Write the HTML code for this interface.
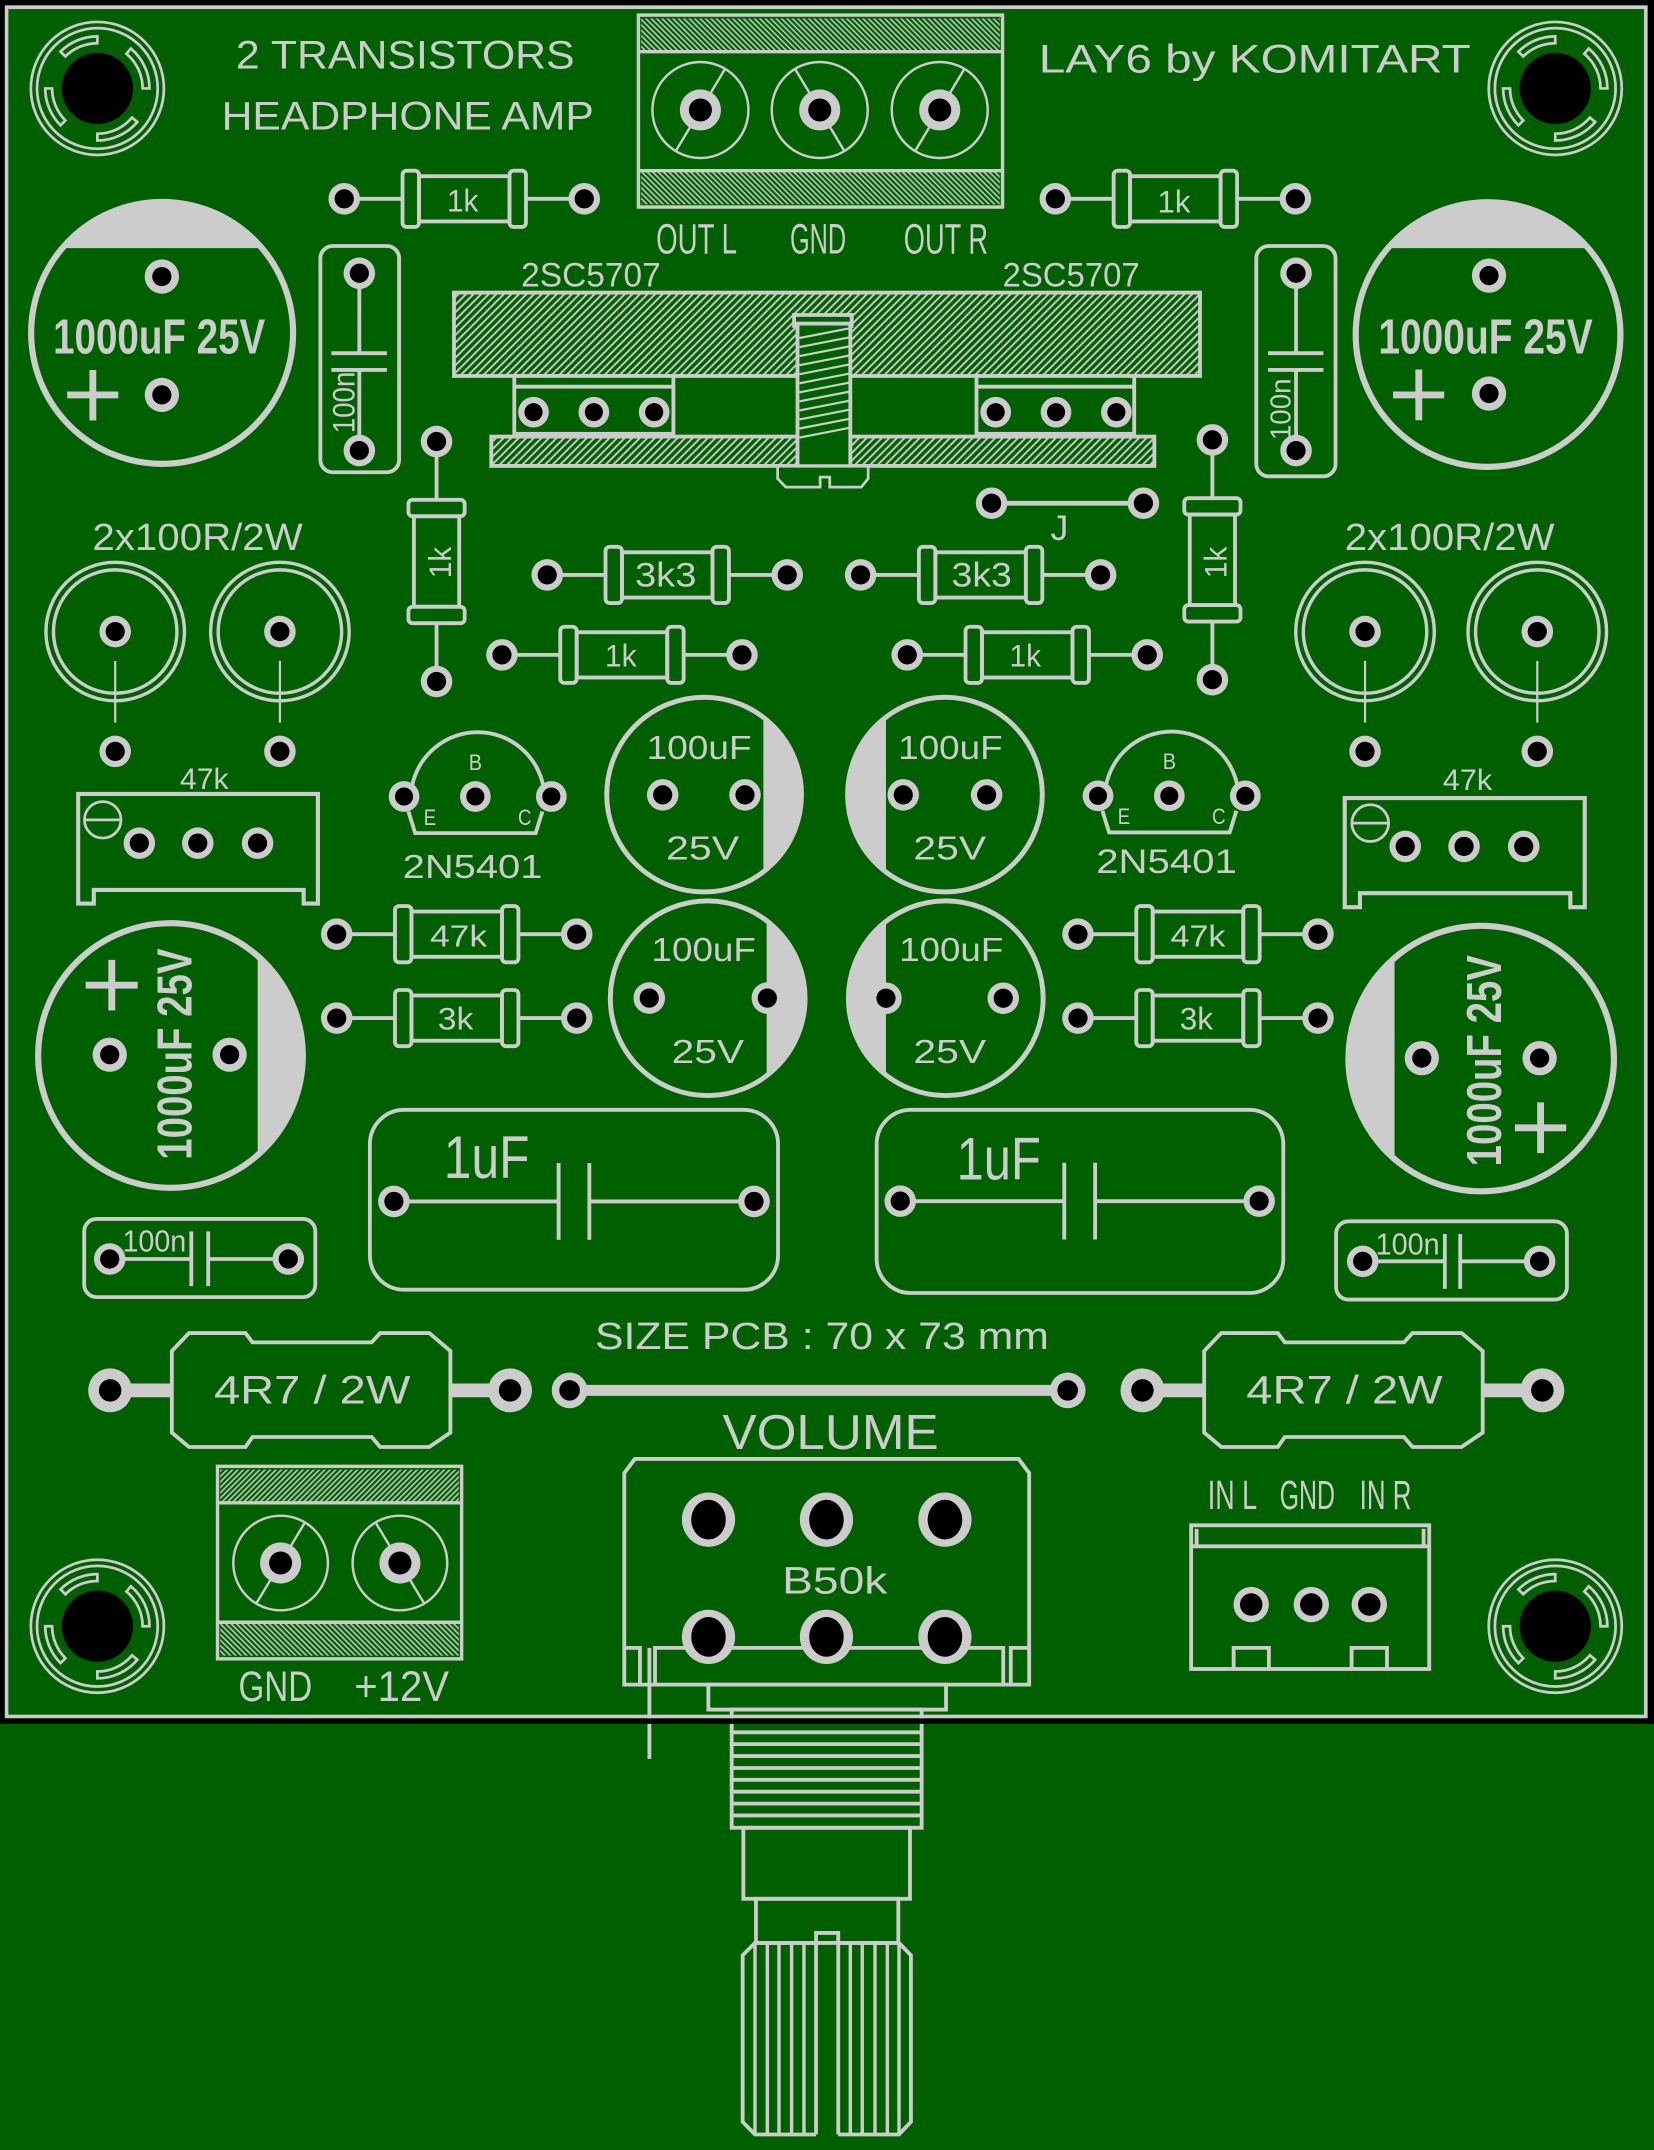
<!DOCTYPE html>
<html><head><meta charset="utf-8"><style>
html,body{margin:0;padding:0;background:#006000;}
svg{display:block;}
.t{font-family:"Liberation Sans",sans-serif;fill:#ccc;}
.b{font-weight:bold;}
</style></head><body>
<svg xmlns="http://www.w3.org/2000/svg" width="1654" height="2150" viewBox="0 0 1206 1568" preserveAspectRatio="none">
<defs>
<pattern id="h1" width="3.9" height="10" patternUnits="userSpaceOnUse" patternTransform="rotate(45)"><line x1="1.95" y1="0" x2="1.95" y2="10" stroke="#ccc" stroke-width="1.4"/></pattern>
<pattern id="h2" width="2.8" height="10" patternUnits="userSpaceOnUse" patternTransform="rotate(-45)"><line x1="1.4" y1="0" x2="1.4" y2="10" stroke="#ccc" stroke-width="1.1"/></pattern>
<pattern id="h3" width="2.8" height="10" patternUnits="userSpaceOnUse" patternTransform="rotate(45)"><line x1="1.4" y1="0" x2="1.4" y2="10" stroke="#ccc" stroke-width="1.1"/></pattern>
<g id="p"><circle r="11.5" fill="#ccc"/><circle r="7" fill="#000"/></g>
<g id="pc"><circle r="12.5" fill="#ccc"/><circle r="7" fill="#000"/></g>
<g id="pq"><circle r="11.2" fill="#ccc"/><circle r="6.6" fill="#000"/></g>
<g id="pt"><circle r="15" fill="#ccc"/><circle r="8.4" fill="#000"/></g>
<g id="pb"><circle r="16" fill="#ccc"/><circle r="8.2" fill="#000"/></g>
<g id="pv"><ellipse rx="19.4" ry="19.8" fill="#ccc"/><ellipse rx="12.6" ry="14.5" fill="#000"/></g>
<g id="pi"><circle r="12.9" fill="#ccc"/><circle r="8.2" fill="#000"/></g>
<g id="pw"><circle r="13" fill="#ccc"/><circle r="7.5" fill="#000"/></g>
<g id="mh" fill="none" stroke="#ccc" stroke-width="2">
<circle r="48.5"/><circle r="44"/>
<path d="M-26.87,-26.87 A38 38 0 0 1 0,-38 L0,-33 A33 33 0 0 0 -23.33,-23.33 Z"/>
<path d="M24.43,-29.11 A38 38 0 0 1 38,0 L33,0 A33 33 0 0 0 21.21,-25.28 Z"/>
<path d="M29.11,24.43 A38 38 0 0 1 0,38 L0,33 A33 33 0 0 0 25.28,21.21 Z"/>
<path d="M-26.87,26.87 A38 38 0 0 1 -38,0 L-33,0 A33 33 0 0 0 -23.33,23.33 Z"/>
<circle r="26" fill="#000" stroke="none"/>
</g>
<g id="rh" fill="none" stroke="#ccc" stroke-width="2.8">
<line x1="-87" y1="0" x2="-45" y2="0"/><line x1="45" y1="0" x2="87" y2="0"/>
<rect x="-33" y="-16.5" width="66" height="33"/>
<rect x="-45" y="-20.5" width="12" height="41" rx="3"/>
<rect x="33" y="-20.5" width="12" height="41" rx="3"/>
</g>
<g id="rv" transform="rotate(90)"><use href="#rh"/></g>
</defs>

<rect x="0" y="0" width="1206" height="1568" fill="#006000"/>

<!-- mounting holes -->
<use href="#mh" x="71" y="64.5"/>
<use href="#mh" x="1134" y="64.5"/>
<use href="#mh" x="71" y="1186"/>
<use href="#mh" x="1134" y="1186"/>

<!-- titles -->
<text class="t" x="172" y="49.8" font-size="29" textLength="247" lengthAdjust="spacingAndGlyphs">2 TRANSISTORS</text>
<text class="t" x="161.6" y="94.3" font-size="29" textLength="271.4" lengthAdjust="spacingAndGlyphs">HEADPHONE AMP</text>
<text class="t" x="757.4" y="53" font-size="29" textLength="315" lengthAdjust="spacingAndGlyphs">LAY6 by KOMITART</text>

<!-- top terminal block -->
<g fill="none" stroke="#ccc" stroke-width="2.5">
<rect x="467.5" y="13.5" width="261.5" height="24" fill="url(#h2)" stroke="none"/>
<rect x="467.5" y="125.5" width="261.5" height="23.5" fill="url(#h2)" stroke="none"/>
<rect x="465.5" y="11" width="265.5" height="140"/>
<line x1="465.5" y1="37.7" x2="731" y2="37.7"/>
<line x1="465.5" y1="124.5" x2="731" y2="124.5"/>
<g stroke-width="1.8">
<circle cx="510.7" cy="80.2" r="35"/><circle cx="597.7" cy="80.2" r="35"/><circle cx="685.2" cy="80.2" r="35"/>
<line x1="492.7" y1="110.2" x2="528.7" y2="50.2"/>
<line x1="579.7" y1="50.2" x2="615.7" y2="110.2"/>
<line x1="667.2" y1="110.2" x2="703.2" y2="50.2"/>
</g>
</g>
<use href="#pt" x="510.7" y="80.2"/><use href="#pt" x="597.7" y="80.2"/><use href="#pt" x="685.2" y="80.2"/>
<text class="t" x="478.4" y="184.7" font-size="31" textLength="59" lengthAdjust="spacingAndGlyphs">OUT L</text>
<text class="t" x="576" y="184.7" font-size="31" textLength="41" lengthAdjust="spacingAndGlyphs">GND</text>
<text class="t" x="659" y="184.7" font-size="31" textLength="61.4" lengthAdjust="spacingAndGlyphs">OUT R</text>

<!-- resistors -->
<use href="#rh" x="338.5" y="145"/><use href="#p" x="251" y="145"/><use href="#p" x="426" y="145"/>
<text class="t" x="325.9" y="154.3" font-size="23" textLength="22.9" lengthAdjust="spacingAndGlyphs">1k</text>
<use href="#rh" x="857" y="145"/><use href="#p" x="769.5" y="145"/><use href="#p" x="944.5" y="145"/>
<text class="t" x="844" y="155" font-size="23" textLength="24" lengthAdjust="spacingAndGlyphs">1k</text>

<use href="#rh" x="486.5" y="419.3"/><use href="#p" x="399" y="419.3"/><use href="#p" x="574" y="419.3"/>
<text class="t" x="463" y="427.8" font-size="25" textLength="44.8" lengthAdjust="spacingAndGlyphs">3k3</text>
<use href="#rh" x="715" y="419.3"/><use href="#p" x="627.5" y="419.3"/><use href="#p" x="802.5" y="419.3"/>
<text class="t" x="693.8" y="427.8" font-size="25" textLength="44" lengthAdjust="spacingAndGlyphs">3k3</text>

<use href="#rh" x="453.5" y="477.6"/><use href="#p" x="366" y="477.6"/><use href="#p" x="541" y="477.6"/>
<text class="t" x="441" y="486.1" font-size="23" textLength="23.2" lengthAdjust="spacingAndGlyphs">1k</text>
<use href="#rh" x="749" y="477.6"/><use href="#p" x="661.5" y="477.6"/><use href="#p" x="836.5" y="477.6"/>
<text class="t" x="736.1" y="486.1" font-size="23" textLength="23" lengthAdjust="spacingAndGlyphs">1k</text>

<use href="#rh" x="333" y="681.3"/><use href="#p" x="245.5" y="681.3"/><use href="#p" x="420.5" y="681.3"/>
<text class="t" x="313.5" y="690.3" font-size="22" textLength="41.7" lengthAdjust="spacingAndGlyphs">47k</text>
<use href="#rh" x="333" y="742.5"/><use href="#p" x="245.5" y="742.5"/><use href="#p" x="420.5" y="742.5"/>
<text class="t" x="319.2" y="751" font-size="23" textLength="26" lengthAdjust="spacingAndGlyphs">3k</text>
<use href="#rh" x="873.5" y="681.3"/><use href="#p" x="786" y="681.3"/><use href="#p" x="961" y="681.3"/>
<text class="t" x="853.5" y="690.3" font-size="22" textLength="40" lengthAdjust="spacingAndGlyphs">47k</text>
<use href="#rh" x="873.5" y="742.5"/><use href="#p" x="786" y="742.5"/><use href="#p" x="961" y="742.5"/>
<text class="t" x="860.2" y="751" font-size="23" textLength="24.3" lengthAdjust="spacingAndGlyphs">3k</text>

<use href="#rv" x="318.3" y="409.5"/><use href="#p" x="318.3" y="322"/><use href="#p" x="318.3" y="497"/>
<text class="t" transform="translate(329,421.7) rotate(-90)" x="0" y="0" font-size="23" textLength="23" lengthAdjust="spacingAndGlyphs">1k</text>
<use href="#rv" x="884" y="408.3"/><use href="#p" x="884" y="320.8"/><use href="#p" x="884" y="495.7"/>
<text class="t" transform="translate(894.2,421.7) rotate(-90)" x="0" y="0" font-size="23" textLength="23" lengthAdjust="spacingAndGlyphs">1k</text>

<!-- big caps top -->
<g fill="none" stroke="#ccc" stroke-width="4.5">
<circle cx="118.2" cy="242.8" r="95.5"/>
<circle cx="1085" cy="244" r="96.5"/>
</g>
<path d="M45.4,181 A95.5 95.5 0 0 1 191,181 Z" fill="#ccc"/>
<path d="M1011.9,181 A96.5 96.5 0 0 1 1158.1,181 Z" fill="#ccc"/>
<use href="#pc" x="118" y="201.7"/><use href="#pc" x="118" y="288"/>
<use href="#pc" x="1085.7" y="201"/><use href="#pc" x="1085.7" y="287"/>
<g stroke="#ccc" stroke-width="5">
<line x1="49" y1="288" x2="86.3" y2="288"/><line x1="67.7" y1="269.8" x2="67.7" y2="306.7"/>
<line x1="1015.7" y1="288" x2="1053" y2="288"/><line x1="1034.5" y1="269.5" x2="1034.5" y2="306.5"/>
</g>
<text class="t b" x="38.7" y="257.7" font-size="36" textLength="154.7" lengthAdjust="spacingAndGlyphs">1000uF 25V</text>
<text class="t b" x="1005" y="257.7" font-size="36" textLength="156.3" lengthAdjust="spacingAndGlyphs">1000uF 25V</text>

<!-- 100n vertical caps -->
<g fill="none" stroke="#ccc" stroke-width="2.8">
<rect x="233.6" y="179.4" width="57.4" height="165" rx="9"/>
<line x1="262" y1="199" x2="262" y2="257.6"/><line x1="262" y1="269.8" x2="262" y2="328.6"/>
<line x1="241.6" y1="257.6" x2="282.1" y2="257.6"/><line x1="241.6" y1="269.8" x2="282.1" y2="269.8"/>
<rect x="916" y="179.4" width="57.8" height="168" rx="9"/>
<line x1="945" y1="199" x2="945" y2="257.6"/><line x1="945" y1="269.8" x2="945" y2="328.6"/>
<line x1="924.6" y1="257.6" x2="965" y2="257.6"/><line x1="924.6" y1="269.8" x2="965" y2="269.8"/>
</g>
<use href="#p" x="262" y="199.3"/><use href="#p" x="262" y="328.6"/>
<use href="#p" x="945" y="199.3"/><use href="#p" x="945" y="328.6"/>
<text class="t" transform="translate(258.5,316) rotate(-90)" x="0" y="0" font-size="23" textLength="45" lengthAdjust="spacingAndGlyphs">100n</text>
<text class="t" transform="translate(941,321) rotate(-90)" x="0" y="0" font-size="21" textLength="45" lengthAdjust="spacingAndGlyphs">100n</text>

<!-- heatsink assembly -->
<text class="t" x="380" y="209" font-size="25" textLength="101.8" lengthAdjust="spacingAndGlyphs">2SC5707</text>
<text class="t" x="731" y="209" font-size="25" textLength="100" lengthAdjust="spacingAndGlyphs">2SC5707</text>
<g stroke="#ccc" stroke-width="2.8">
<rect x="331" y="213.4" width="544" height="60.8" fill="url(#h1)"/>
<rect x="375" y="274.2" width="116" height="42.2" fill="#006000"/>
<line x1="375" y1="282" x2="491" y2="282"/>
<rect x="712" y="274.2" width="115" height="42.2" fill="#006000"/>
<line x1="712" y1="282" x2="827" y2="282"/>
<rect x="358.2" y="318.4" width="483.5" height="21.4" fill="url(#h1)"/>
<rect x="579" y="229.7" width="42" height="8" fill="#006000"/>
<rect x="581.5" y="236" width="38.5" height="104" fill="#006000"/>
<path d="M567,340 H633 V349 L628,355.3 H605 V348 H598 V355.3 H573 L567,349 Z" fill="#006000" stroke-width="2"/>
</g>
<g stroke="#ccc" stroke-width="1.6">
<line x1="583" y1="246.5" x2="619" y2="239.5"/>
<line x1="583" y1="253.1" x2="619" y2="246.1"/>
<line x1="583" y1="259.7" x2="619" y2="252.7"/>
<line x1="583" y1="266.3" x2="619" y2="259.3"/>
<line x1="583" y1="272.9" x2="619" y2="265.9"/>
<line x1="583" y1="279.5" x2="619" y2="272.5"/>
<line x1="583" y1="286.1" x2="619" y2="279.1"/>
<line x1="583" y1="292.7" x2="619" y2="285.7"/>
<line x1="583" y1="299.3" x2="619" y2="292.3"/>
<line x1="583" y1="305.9" x2="619" y2="298.9"/>
<line x1="583" y1="312.5" x2="619" y2="305.5"/>
<line x1="583" y1="319.1" x2="619" y2="312.1"/>
</g>
<use href="#pq" x="389" y="300.6"/><use href="#pq" x="433" y="300.6"/><use href="#pq" x="477" y="300.6"/>
<use href="#pq" x="726" y="300.6"/><use href="#pq" x="770" y="300.6"/><use href="#pq" x="814" y="300.6"/>

<!-- jumper -->
<line x1="723" y1="367" x2="833.7" y2="367" stroke="#ccc" stroke-width="3.5"/>
<use href="#p" x="723" y="367"/><use href="#p" x="833.7" y="367"/>
<text class="t" x="766" y="393.8" font-size="26">J</text>

<!-- power resistors -->
<text class="t" x="67.4" y="401" font-size="28" textLength="153.3" lengthAdjust="spacingAndGlyphs">2x100R/2W</text>
<text class="t" x="980.5" y="401" font-size="28" textLength="153" lengthAdjust="spacingAndGlyphs">2x100R/2W</text>
<g fill="none" stroke="#ccc" stroke-width="2.5">
<circle cx="84" cy="460.6" r="50.5"/><circle cx="84" cy="460.6" r="45"/>
<circle cx="204.1" cy="460.6" r="50.5"/><circle cx="204.1" cy="460.6" r="45"/>
<circle cx="995.3" cy="460.6" r="50.5"/><circle cx="995.3" cy="460.6" r="45"/>
<circle cx="1120.9" cy="460.6" r="50.5"/><circle cx="1120.9" cy="460.6" r="45"/>
<g stroke-width="1.6">
<line x1="84" y1="482" x2="84" y2="527"/><line x1="204.1" y1="482" x2="204.1" y2="527"/>
<line x1="995.3" y1="482" x2="995.3" y2="527"/><line x1="1120.9" y1="482" x2="1120.9" y2="527"/>
</g>
</g>
<use href="#p" x="84" y="460.6"/><use href="#p" x="204.1" y="460.6"/><use href="#p" x="995.3" y="460.6"/><use href="#p" x="1120.9" y="460.6"/>
<use href="#p" x="84" y="548"/><use href="#p" x="204.1" y="548"/><use href="#p" x="995.3" y="548"/><use href="#p" x="1120.9" y="548"/>

<!-- trimmers -->
<text class="t" x="131.2" y="575.5" font-size="21.5" textLength="35.5" lengthAdjust="spacingAndGlyphs">47k</text>
<text class="t" x="1052" y="576" font-size="21.5" textLength="36" lengthAdjust="spacingAndGlyphs">47k</text>
<g fill="none" stroke="#ccc" stroke-width="3">
<path d="M57,579 H231.8 V659 H221.4 V649 H68.4 V659 H57 Z"/>
<path d="M980.5,582 H1155.5 V661.6 H1145 V651.4 H991.6 V661.6 H980.5 Z"/>
<g stroke-width="2"><circle cx="74.9" cy="597.9" r="13.3"/><line x1="61.6" y1="597.9" x2="88.2" y2="597.9"/>
<circle cx="999.1" cy="600.3" r="13.4"/><line x1="985.7" y1="600.3" x2="1012.5" y2="600.3"/></g>
</g>
<use href="#p" x="101.6" y="614.9"/><use href="#p" x="144.2" y="614.9"/><use href="#p" x="187.8" y="614.9"/>
<use href="#p" x="1024.6" y="617.3"/><use href="#p" x="1067.5" y="617.3"/><use href="#p" x="1111" y="617.3"/>

<!-- 2N5401 -->
<g id="to92">
<g fill="none" stroke="#ccc" stroke-width="2.8">
<path d="M300.3,574 A48.8 48.8 0 0 1 396.3,574"/>
<path d="M297.8,591.8 L302.7,607.6 H390.6 L395.5,591.8"/>
</g>
<use href="#pq" x="294.6" y="580.9"/><use href="#pq" x="346.6" y="580.9"/><use href="#pq" x="402" y="580.9"/>
<text class="t" x="341.8" y="561.5" font-size="16" textLength="9.7" lengthAdjust="spacingAndGlyphs">B</text>
<text class="t" x="309" y="601.5" font-size="16.5" textLength="9" lengthAdjust="spacingAndGlyphs">E</text>
<text class="t" x="377.7" y="601.5" font-size="16.5" textLength="9.9" lengthAdjust="spacingAndGlyphs">C</text>
</g>
<use href="#to92" x="506" y="-0.5"/>
<text class="t" x="293.6" y="640.4" font-size="24.5" textLength="101.9" lengthAdjust="spacingAndGlyphs">2N5401</text>
<text class="t" x="799.3" y="636.8" font-size="25" textLength="102.5" lengthAdjust="spacingAndGlyphs">2N5401</text>

<!-- 100uF caps -->
<g fill="none" stroke="#ccc" stroke-width="3.6">
<circle cx="513.4" cy="579.5" r="71"/>
<circle cx="689" cy="579.5" r="71"/>
<circle cx="516" cy="728" r="71"/>
<circle cx="689.6" cy="728" r="71"/>
</g>
<g fill="#ccc">
<path d="M556.6,523.2 A71 71 0 0 1 556.6,635.8 Z"/>
<path d="M646,523 A71 71 0 0 0 646,636 Z"/>
<path d="M559,671.5 A71 71 0 0 1 559,784.5 Z"/>
<path d="M646,671.9 A71 71 0 0 0 646,784.1 Z"/>
</g>
<use href="#p" x="483.2" y="579.7"/><use href="#p" x="543.2" y="579.7"/>
<use href="#p" x="658.6" y="579.7"/><use href="#p" x="719.4" y="579.7"/>
<use href="#p" x="473.4" y="727.9"/><use href="#p" x="559.5" y="727.9"/>
<use href="#p" x="646" y="728"/><use href="#p" x="731.5" y="728"/>
<g class="t" font-size="24">
<text x="471.5" y="553.4" textLength="76.5" lengthAdjust="spacingAndGlyphs">100uF</text>
<text x="485.6" y="627" textLength="53.4" lengthAdjust="spacingAndGlyphs">25V</text>
<text x="655" y="553.4" textLength="76" lengthAdjust="spacingAndGlyphs">100uF</text>
<text x="666" y="627" textLength="53" lengthAdjust="spacingAndGlyphs">25V</text>
<text x="475" y="701" textLength="76.2" lengthAdjust="spacingAndGlyphs">100uF</text>
<text x="489.7" y="775.3" textLength="52.8" lengthAdjust="spacingAndGlyphs">25V</text>
<text x="655.7" y="701" textLength="75.8" lengthAdjust="spacingAndGlyphs">100uF</text>
<text x="666" y="775.3" textLength="53" lengthAdjust="spacingAndGlyphs">25V</text>
</g>

<!-- big caps lower -->
<g fill="none" stroke="#ccc" stroke-width="4.5">
<circle cx="124.3" cy="769.8" r="96.5"/>
<circle cx="1080" cy="772" r="96.8"/>
</g>
<path d="M187.9,697.2 A96.5 96.5 0 0 1 187.9,842.4 Z" fill="#ccc"/>
<path d="M1016.8,698.7 A96.8 96.8 0 0 0 1016.8,845.3 Z" fill="#ccc"/>
<use href="#pc" x="80" y="769.2"/><use href="#pc" x="167.4" y="769.2"/>
<use href="#pc" x="1036.7" y="771.7"/><use href="#pc" x="1122.6" y="771.7"/>
<g stroke="#ccc" stroke-width="5">
<line x1="62.5" y1="718.5" x2="100.4" y2="718.5"/><line x1="81.5" y1="700" x2="81.5" y2="737"/>
<line x1="1104.6" y1="822.5" x2="1142" y2="822.5"/><line x1="1123.3" y1="804" x2="1123.3" y2="841"/>
</g>
<text class="t b" transform="translate(139.5,845.8) rotate(-90)" x="0" y="0" font-size="36" textLength="154" lengthAdjust="spacingAndGlyphs">1000uF 25V</text>
<text class="t b" transform="translate(1094.6,850.6) rotate(-90)" x="0" y="0" font-size="36" textLength="154" lengthAdjust="spacingAndGlyphs">1000uF 25V</text>

<!-- 100n small caps -->
<g fill="none" stroke="#ccc" stroke-width="2.8">
<rect x="61.4" y="889" width="168.5" height="57" rx="9"/>
<line x1="80" y1="918.2" x2="139.5" y2="918.2"/><line x1="151.8" y1="918.2" x2="210.2" y2="918.2"/>
<line x1="139.5" y1="898" x2="139.5" y2="938"/><line x1="151.8" y1="898" x2="151.8" y2="938"/>
<rect x="974.2" y="890.7" width="168.3" height="57.1" rx="9"/>
<line x1="993.6" y1="919.9" x2="1053.5" y2="919.9"/><line x1="1064.7" y1="919.9" x2="1122.6" y2="919.9"/>
<line x1="1053.5" y1="900" x2="1053.5" y2="940"/><line x1="1064.7" y1="900" x2="1064.7" y2="940"/>
</g>
<use href="#p" x="80" y="918.2"/><use href="#p" x="210.2" y="918.2"/>
<use href="#p" x="993.6" y="919.9"/><use href="#p" x="1122.6" y="919.9"/>
<text class="t" x="89.3" y="912.6" font-size="22" textLength="46.5" lengthAdjust="spacingAndGlyphs">100n</text>
<text class="t" x="1003" y="914.8" font-size="22" textLength="46.7" lengthAdjust="spacingAndGlyphs">100n</text>

<!-- 1uF caps -->
<g fill="none" stroke="#ccc" stroke-width="2.8">
<rect x="269.7" y="809.4" width="297.6" height="131.2" rx="25"/>
<line x1="287.2" y1="876.2" x2="407.3" y2="876.2"/><line x1="429.7" y1="876.2" x2="549.8" y2="876.2"/>
<line x1="407.3" y1="848.2" x2="407.3" y2="904.2"/><line x1="429.7" y1="848.2" x2="429.7" y2="904.2"/>
<rect x="639.2" y="809.4" width="296.5" height="133.6" rx="25"/>
<line x1="656.4" y1="876" x2="776" y2="876"/><line x1="798.5" y1="876" x2="918.1" y2="876"/>
<line x1="776" y1="848" x2="776" y2="904"/><line x1="798.5" y1="848" x2="798.5" y2="904"/>
</g>
<use href="#p" x="287.2" y="876.2"/><use href="#p" x="549.8" y="876.2"/>
<use href="#p" x="656.4" y="876"/><use href="#p" x="918.1" y="876"/>
<text class="t" x="323.6" y="859.1" font-size="44" textLength="62.5" lengthAdjust="spacingAndGlyphs">1uF</text>
<text class="t" x="697.5" y="860.4" font-size="44" textLength="61.4" lengthAdjust="spacingAndGlyphs">1uF</text>

<!-- size text -->
<text class="t" x="433.8" y="983.8" font-size="28" textLength="331" lengthAdjust="spacingAndGlyphs">SIZE PCB : 70 x 73 mm</text>

<!-- 4R7 resistors -->
<g id="r4">
<g stroke="#ccc" stroke-width="10">
<line x1="80.3" y1="1014" x2="126" y2="1014"/><line x1="328" y1="1014" x2="371.9" y2="1014"/>
</g>
<path d="M137.8,972.2 H179 L184.1,979 H271 L277.2,972.2 H313 L328.4,985.3 V1044.8 L313,1055.3 H277.2 L271,1048 H184.1 L179,1055.3 H137.8 L125.3,1044.8 V985.3 Z" fill="#006000" stroke="#ccc" stroke-width="2.8"/>
<use href="#pb" x="80.3" y="1014"/><use href="#pb" x="371.9" y="1014"/>
<text class="t" x="156" y="1023.7" font-size="29" textLength="143.2" lengthAdjust="spacingAndGlyphs">4R7 / 2W</text>
</g>
<use href="#r4" x="752.7" y="0"/>

<!-- wire link -->
<line x1="415.3" y1="1014" x2="778.5" y2="1014" stroke="#ccc" stroke-width="8"/>
<use href="#pw" x="415.3" y="1014"/><use href="#pw" x="778.5" y="1014"/>

<!-- VOLUME pot -->
<text class="t" x="526.8" y="1056.7" font-size="36" textLength="157.6" lengthAdjust="spacingAndGlyphs">VOLUME</text>
<g fill="none" stroke="#ccc" stroke-width="2.8">
<path d="M455.2,1074.3 L462.9,1064 H742.7 L750.4,1074.3 V1228.6 H455.2 Z"/>
<path d="M455.2,1201.8 H466.6 V1228.6"/>
<path d="M750.4,1201.8 H737 V1228.6"/>
<path d="M477.6,1228.6 V1201.8 H731.5 V1228.6"/>
<line x1="473.5" y1="1201.8" x2="473.5" y2="1282.8"/>
<rect x="516.5" y="1228.6" width="173.3" height="18.2"/>
<rect x="533.5" y="1246.8" width="138.5" height="86.2"/>
<line x1="533.5" y1="1263.4" x2="672" y2="1263.4"/>
<line x1="533.5" y1="1272" x2="672" y2="1272"/>
<line x1="533.5" y1="1280.7" x2="672" y2="1280.7"/>
<line x1="533.5" y1="1289.4" x2="672" y2="1289.4"/>
<line x1="533.5" y1="1298" x2="672" y2="1298"/>
<line x1="533.5" y1="1306.7" x2="672" y2="1306.7"/>
<line x1="533.5" y1="1315.4" x2="672" y2="1315.4"/>
<line x1="533.5" y1="1324" x2="672" y2="1324"/>
<rect x="542" y="1333" width="121.5" height="51.8"/>
<rect x="551.2" y="1384.8" width="103.8" height="32.2"/>
<path d="M595,1556.7 H550.5 L541.5,1547.5 V1426 L550.5,1417 H595"/>
<path d="M611.2,1417 H655.5 L664.2,1426 V1547.5 L655.5,1556.7 H611.2"/>
<path d="M595,1556.7 V1409.7 H611.2 V1556.7"/>
<g stroke-width="2.5">
<line x1="550.5" y1="1417" x2="550.5" y2="1556.7"/>
<line x1="559.5" y1="1417" x2="559.5" y2="1556.7"/>
<line x1="568" y1="1417" x2="568" y2="1556.7"/>
<line x1="577.2" y1="1417" x2="577.2" y2="1556.7"/>
<line x1="586.2" y1="1417" x2="586.2" y2="1556.7"/>
<line x1="620" y1="1417" x2="620" y2="1556.7"/>
<line x1="628.7" y1="1417" x2="628.7" y2="1556.7"/>
<line x1="638" y1="1417" x2="638" y2="1556.7"/>
<line x1="647" y1="1417" x2="647" y2="1556.7"/>
<line x1="655.5" y1="1417" x2="655.5" y2="1556.7"/>
</g>
</g>
<use href="#pv" x="516.6" y="1108.3"/><use href="#pv" x="602.6" y="1108.3"/><use href="#pv" x="689" y="1108.3"/>
<use href="#pv" x="516.6" y="1193.8"/><use href="#pv" x="602.6" y="1193.8"/><use href="#pv" x="689" y="1193.8"/>
<text class="t" x="570.3" y="1162.2" font-size="28" textLength="76.7" lengthAdjust="spacingAndGlyphs">B50k</text>

<!-- power terminal -->
<g fill="none" stroke="#ccc" stroke-width="2.5">
<rect x="160.6" y="1071.8" width="174" height="24.2" fill="url(#h3)" stroke="none"/>
<rect x="160.6" y="1184" width="174" height="23.5" fill="url(#h2)" stroke="none"/>
<rect x="158.6" y="1069.4" width="178" height="140.4"/>
<line x1="158.6" y1="1096" x2="336.6" y2="1096"/>
<line x1="158.6" y1="1183.1" x2="336.6" y2="1183.1"/>
<g stroke-width="1.8">
<circle cx="204.6" cy="1139.9" r="34.5"/><circle cx="291.6" cy="1139.9" r="34.5"/>
<line x1="186.6" y1="1169.9" x2="222.6" y2="1109.9"/>
<line x1="273.6" y1="1109.9" x2="309.6" y2="1169.9"/>
</g>
</g>
<use href="#pt" x="204.6" y="1139.9"/><use href="#pt" x="291.6" y="1139.9"/>
<text class="t" x="173.9" y="1240.7" font-size="31" textLength="53.7" lengthAdjust="spacingAndGlyphs">GND</text>
<text class="t" x="258.3" y="1240.7" font-size="31" textLength="69.1" lengthAdjust="spacingAndGlyphs">+12V</text>

<!-- input connector -->
<text class="t" x="880.6" y="1100.5" font-size="30" textLength="36" lengthAdjust="spacingAndGlyphs">IN L</text>
<text class="t" x="933" y="1100.5" font-size="30" textLength="40.4" lengthAdjust="spacingAndGlyphs">GND</text>
<text class="t" x="991.4" y="1100.5" font-size="30" textLength="37.8" lengthAdjust="spacingAndGlyphs">IN R</text>
<g fill="none" stroke="#ccc" stroke-width="2.8">
<rect x="868.5" y="1112.4" width="173.6" height="104.8"/>
<line x1="868.5" y1="1127.7" x2="1042.1" y2="1127.7"/>
<line x1="872.5" y1="1115" x2="872.5" y2="1127.7"/>
<line x1="1038" y1="1115" x2="1038" y2="1127.7"/>
<path d="M899.5,1217.2 V1201.8 H925.2 V1217.2"/>
<path d="M985.5,1217.2 V1201.8 H1011.3 V1217.2"/>
</g>
<use href="#pi" x="912.3" y="1170.2"/><use href="#pi" x="956.1" y="1170.2"/><use href="#pi" x="998.4" y="1170.2"/>

<!-- board border -->
<rect x="0" y="0" width="1206" height="3.6" fill="#000"/>
<rect x="0" y="0" width="3.6" height="1257.2" fill="#000"/>
<rect x="1201.5" y="0" width="4.5" height="1257.2" fill="#000"/>
<rect x="0" y="1253.2" width="1206" height="4" fill="#000"/>
<rect x="4.8" y="5.3" width="1195.2" height="1246.5" fill="none" stroke="#ccc" stroke-width="2.6"/>
</svg>
</body></html>
